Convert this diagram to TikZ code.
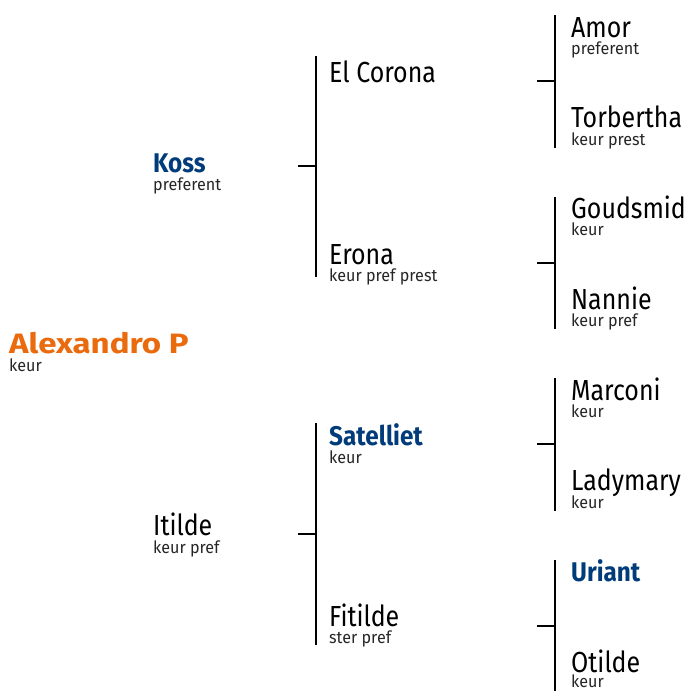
\documentclass[tikz,border=0pt]{standalone}
\usepackage{fontspec}
\setmainfont{Fira Sans}[FakeStretch=0.86]
\newfontfamily\notefont{Fira Sans}[FakeStretch=0.95]
\newfontfamily\condbold{Fira Sans}[FakeStretch=0.9]
\newfontfamily\widebold{Fira Sans}[FakeStretch=1.18]
\usepackage{xcolor}
\definecolor{navy}{HTML}{003B7A}
\definecolor{tangerine}{HTML}{EA6A0E}

\begin{document}
\begin{tikzpicture}[x=1pt, y=-1pt,
	horse/.style={inner sep=0pt, anchor=base west, text depth=0pt, font=\fontsize{29}{29}\selectfont},
	note/.style={inner sep=0pt, anchor=base west, text=black!85, font=\notefont\fontsize{17}{18}\selectfont},
	winner/.style={horse, text=navy, font=\condbold\bfseries\fontsize{27}{27}\selectfont},
	bracket/.style={line width=2.6pt, black}]
	\useasboundingbox (0,0) rectangle (687,691);

	\node [horse, text=tangerine, font=\widebold\bfseries\fontsize{28}{28}\selectfont]
		(alexandro) at (9,353) {Alexandro P};
	\node [note] (alexandrosub) at (9,371) {keur};

	\node [winner] (koss) at (153,172) {Koss};
	\node [note] (kosssub) at (153,190) {preferent};
	\node [horse] (itilde) at (153,535) {Itilde};
	\node [note] (itildesub) at (153,553) {keur pref};

	\node [horse] (elcorona) at (329,82) {El Corona};
	\node [horse] (erona) at (329,264) {Erona};
	\node [note] (eronasub) at (329,281) {keur pref prest};
	\node [winner] (satelliet) at (329,445) {Satelliet};
	\node [note] (sateliietsub) at (329,463) {keur};
	\node [horse] (fitilde) at (329,626) {Fitilde};
	\node [note] (fitildesub) at (329,643) {ster pref};

	\node [horse] (amor) at (571,37) {Amor};
	\node [note] (amorsub) at (571,54) {preferent};
	\node [horse] (torbertha) at (571,127) {Torbertha};
	\node [note] (torberthasub) at (571,145) {keur prest};
	\node [horse] (goudsmid) at (571,218) {Goudsmid};
	\node [note] (goudsmidsub) at (571,235) {keur};
	\node [horse] (nannie) at (571,309) {Nannie};
	\node [note] (nanniesub) at (571,326) {keur pref};
	\node [horse] (marconi) at (571,400) {Marconi};
	\node [note] (marconisub) at (571,417) {keur};
	\node [horse] (ladymary) at (571,490) {Ladymary};
	\node [note] (ladymarysub) at (571,508) {keur};
	\node [winner] (uriant) at (571,581) {Uriant};
	\node [horse] (otilde) at (571,672) {Otilde};
	\node [note] (otildesub) at (571,687) {keur};

	\coordinate (kosstop) at (316,56);
	\coordinate (kossbot) at (316,277);
	\coordinate (kosstick) at (298,166);
	\coordinate (itildetop) at (316,423);
	\coordinate (itildebot) at (316,645);
	\coordinate (itildetick) at (298,534);
	\draw [bracket] (kosstop) -- (kossbot);
	\draw [bracket] (kosstick) -- (kosstick -| kosstop);
	\draw [bracket] (itildetop) -- (itildebot);
	\draw [bracket] (itildetick) -- (itildetick -| itildetop);

	\coordinate (elcoronatop) at (555,15);
	\coordinate (elcoronabot) at (555,148);
	\coordinate (elcoronatick) at (537,81);
	\coordinate (eronatop) at (555,197);
	\coordinate (eronabot) at (555,329);
	\coordinate (eronatick) at (537,263);
	\coordinate (sateliiettop) at (555,378);
	\coordinate (sateliietbot) at (555,511);
	\coordinate (sateliiettick) at (537,444);
	\coordinate (fitildetop) at (555,560);
	\coordinate (fitildebot) at (555,691);
	\coordinate (fitildetick) at (537,626);
	\draw [bracket] (elcoronatop) -- (elcoronabot);
	\draw [bracket] (elcoronatick) -- (elcoronatick -| elcoronatop);
	\draw [bracket] (eronatop) -- (eronabot);
	\draw [bracket] (eronatick) -- (eronatick -| eronatop);
	\draw [bracket] (sateliiettop) -- (sateliietbot);
	\draw [bracket] (sateliiettick) -- (sateliiettick -| sateliiettop);
	\draw [bracket] (fitildetop) -- (fitildebot);
	\draw [bracket] (fitildetick) -- (fitildetick -| fitildetop);
\end{tikzpicture}
\end{document}
